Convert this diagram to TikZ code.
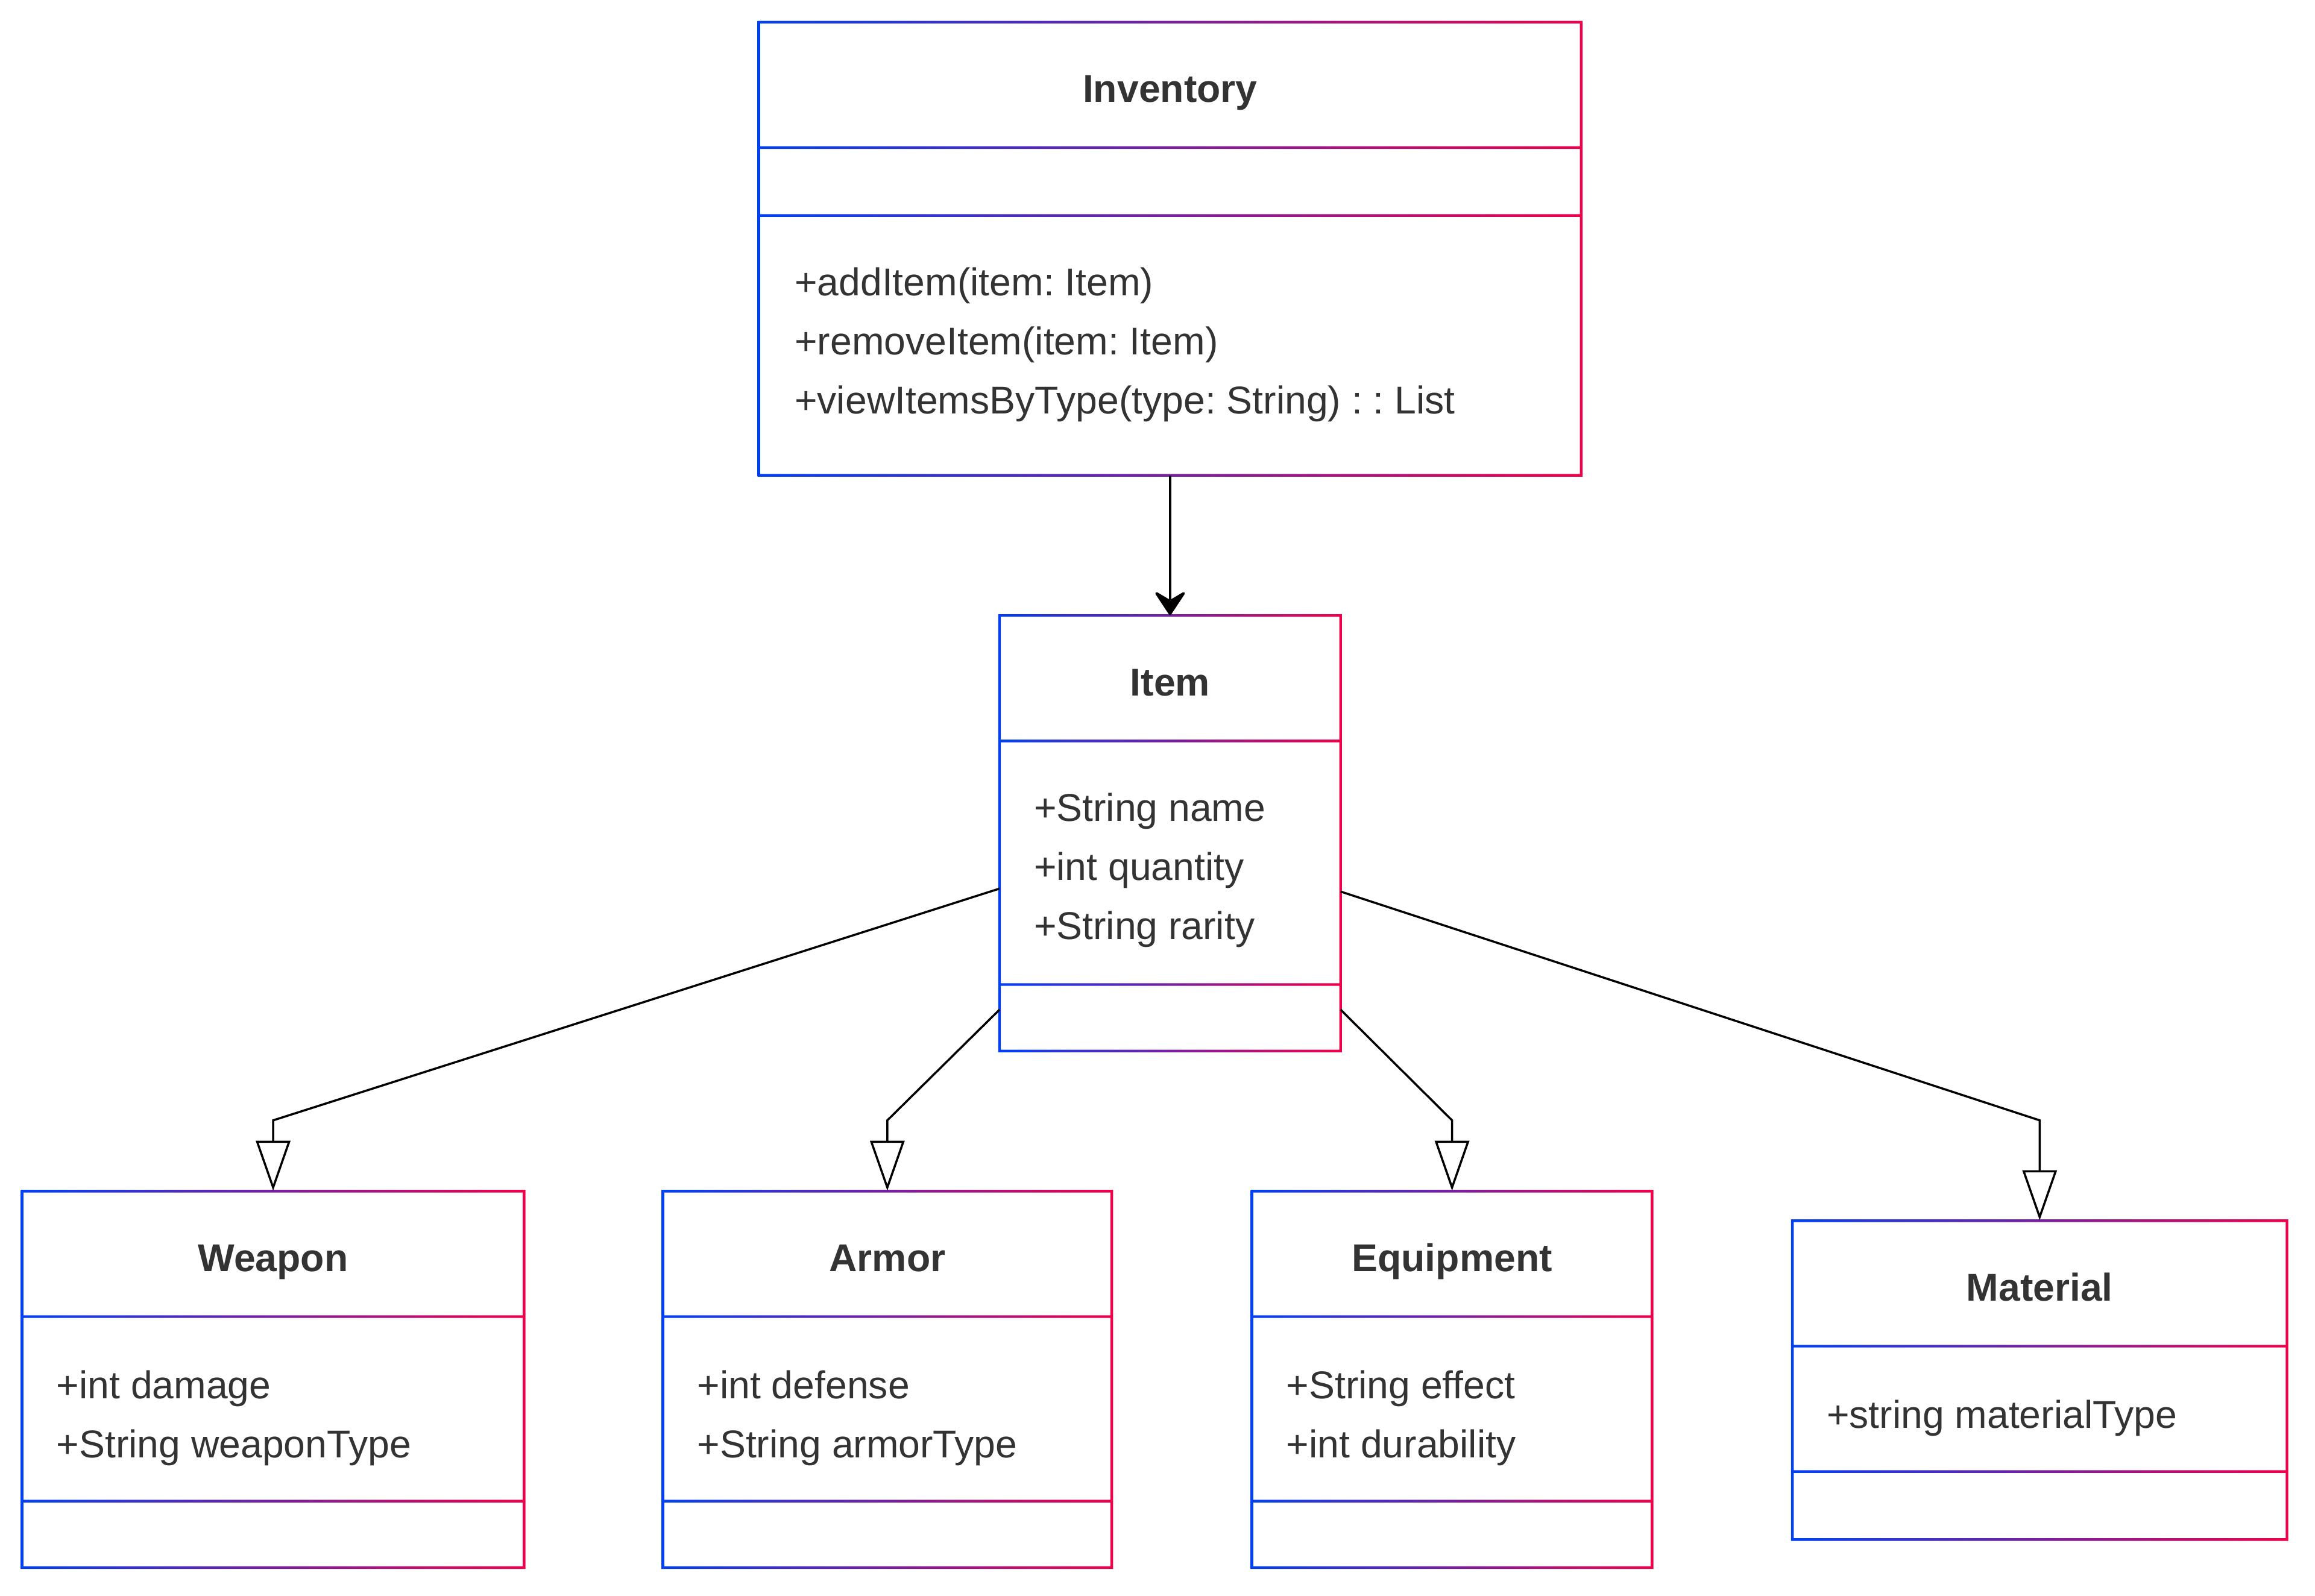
\documentclass[tikz,border=0pt]{standalone}
\usepackage{fontspec}
\setmainfont{Liberation Sans}
\usetikzlibrary{arrows.meta,fit,calc}
\frenchspacing
\definecolor{ublue}{HTML}{0040F5}
\definecolor{ured}{HTML}{F0004A}
\definecolor{utext}{HTML}{333333}
\newcommand\hw{0.9}
% name, x0, y0, x1, y1, divider1, divider2
\newcommand\umlbox[7]{%
  \shade[left color=ublue,right color=ured,even odd rule]
    (#2-\hw,#3-\hw) rectangle (#4+\hw,#5+\hw)
    (#2+\hw,#3+\hw) rectangle (#4-\hw,#6-\hw)
    (#2+\hw,#6+\hw) rectangle (#4-\hw,#7-\hw)
    (#2+\hw,#7+\hw) rectangle (#4-\hw,#5-\hw);
  \coordinate (#1-nw) at (#2,#3);
  \coordinate (#1-se) at (#4,#5);
  \node[fit=(#1-nw)(#1-se),inner sep=0pt] (#1) {};
}
\tikzset{
  umltitle/.style={anchor=center,inner sep=0pt,text=utext,
    font=\fontsize{18.3pt}{22pt}\selectfont\bfseries,text height=13.1pt,text depth=0pt},
  umlattr/.style={anchor=west,inner sep=0pt,text=utext,
    font=\fontsize{18.3pt}{22pt}\selectfont,text height=13.1pt,text depth=0pt},
  assoc/.style={draw=black,line width=1.2pt,-{Stealth[length=0.44cm,width=0.58cm,inset=0.17cm,round]}},
  inherit/.style={draw=black,line width=1pt,-{Triangle[open,length=0.83cm,width=0.57cm,fill=white]}}
}
\begin{document}
\begin{tikzpicture}[x=0.02449cm,y=-0.02449cm]
\useasboundingbox (0,0) rectangle (1568,1081);
\fill[white] (0,0) rectangle (1568,1081);

% Inventory
\umlbox{inv}{514}{15}{1071}{322}{100}{146}
\node[umltitle] (invt) at (792.5,60) {Inventory};
\node[umlattr] (invm1) at (538,191) {+addItem(item: Item)};
\node[umlattr] (invm2) at (538,231) {+removeItem(item: Item)};
\node[umlattr] (invm3) at (538,271) {+viewItemsByType(type: String) : : List};

% Item
\umlbox{item}{677}{417}{908}{712}{502}{667}
\node[umltitle] (itemt) at (792.5,462) {Item};
\node[umlattr] (itema1) at (700,547) {+String name};
\node[umlattr] (itema2) at (700,587) {+int quantity};
\node[umlattr] (itema3) at (700,627) {+String rarity};

% Weapon
\umlbox{weapon}{15}{807}{355}{1062}{892}{1017}
\node[umltitle] (weapont) at (185,852) {Weapon};
\node[umlattr] (weapona1) at (38,938) {+int damage};
\node[umlattr] (weapona2) at (38,978) {+String weaponType};

% Armor
\umlbox{armor}{449}{807}{753}{1062}{892}{1017}
\node[umltitle] (armort) at (601,852) {Armor};
\node[umlattr] (armora1) at (472,938) {+int defense};
\node[umlattr] (armora2) at (472,978) {+String armorType};

% Equipment
\umlbox{equip}{848}{807}{1119}{1062}{892}{1017}
\node[umltitle] (equipt) at (983.5,852) {Equipment};
\node[umlattr] (equipa1) at (871,938) {+String effect};
\node[umlattr] (equipa2) at (871,978) {+int durability};

% Material
\umlbox{mat}{1214}{827}{1549}{1043}{912}{997}
\node[umltitle] (matt) at (1381.5,872) {Material};
\node[umlattr] (mata1) at (1237,958) {+string materialType};

% connectors
\draw[assoc] (inv.south) -- (item.north);

\coordinate (iL1) at (677,602);
\coordinate (iL2) at (677,684);
\coordinate (iR1) at (908,604);
\coordinate (iR2) at (908,684);
\coordinate (bW) at (185,759);
\coordinate (bA) at (601,759);
\coordinate (bE) at (983.5,759);
\coordinate (bM) at (1381.5,759);

\draw[inherit] (iL1) -- (bW) -- (weapon.north);
\draw[inherit] (iL2) -- (bA) -- (armor.north);
\draw[inherit] (iR2) -- (bE) -- (equip.north);
\draw[inherit] (iR1) -- (bM) -- (mat.north);
\end{tikzpicture}
\end{document}
